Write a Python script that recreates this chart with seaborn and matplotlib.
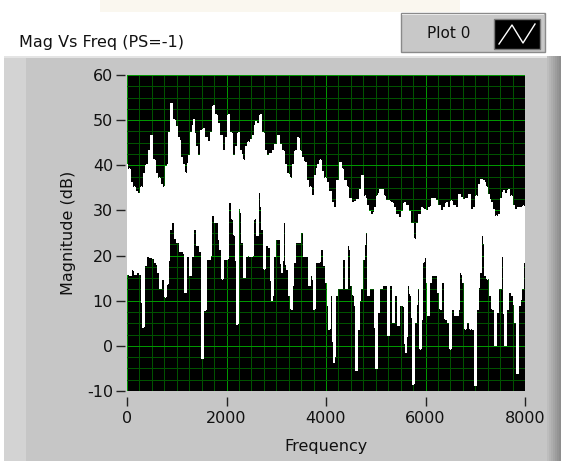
import numpy as np
import pandas as pd
import matplotlib
matplotlib.use("Agg")
import matplotlib.pyplot as plt
import seaborn as sns
from matplotlib.ticker import MultipleLocator
from matplotlib.patches import Rectangle
from matplotlib.lines import Line2D

# ---------------- data (50 Hz steps 0..8000) ----------------
upper_db = [
    40, 39, 36, 35, 34, 33.5, 35, 38, 40, 43, 46.5, 41, 38, 37, 35.5, 35,
    39.5, 47, 53.5, 50, 48.5, 46, 41.5, 40, 38, 42, 47, 50, 44, 42, 47.5, 48,
    46, 45, 47, 53, 51, 49, 46.5, 43, 46, 51, 47, 42, 44, 47, 43, 41,
    44, 45, 45.5, 46.5, 49.5, 49, 51, 47, 43, 42, 42.5, 43, 44.5, 46.5, 44.5, 43,
    40, 38, 37, 40, 43, 46, 43, 41.5, 40.5, 36.5, 35, 33, 37.5, 40, 41, 38.5,
    37, 36, 34, 31.5, 30.5, 36.5, 40.5, 39, 36.5, 35, 32.5, 31.5, 31.8, 32.3, 34.5, 37.5,
    33, 31, 29.5, 29, 30.5, 33, 34.5, 34.5, 33, 32, 31.9, 31.5, 30.5, 29, 28.3, 29.5,
    31.5, 31, 29.5, 27, 23.5, 27, 29, 30.5, 30, 29.7, 30.5, 32.5, 32.5, 31.9, 31, 29.7,
    30.5, 31.6, 30.5, 31.9, 31, 30.5, 33.4, 32.7, 32.3, 32.5, 33.4, 30, 30.5, 33, 35.6, 36.7,
    36.5, 35, 33.4, 31.5, 30, 28.6, 29, 32.5, 34.2, 33.5, 34.5, 33, 31, 30.1, 30.5, 30.5,
    30.8,
]
lower_db = [
    16, 15.7, 17, 16, 16.5, 16, 4.3, 18, 20, 19.8, 19.5, 18.7, 16.5, 12.8, 15, 11,
    13.9, 26, 27.5, 24, 23, 21, 21, 12, 20, 15.7, 20, 26, 22.4, 21, -2.7, 8,
    19.4, 19.4, 29, 27.5, 27.5, 21.6, 15, 19.4, 19.4, 32, 28.3, 24.6, 5, 33.4, 23, 15.3,
    20, 20, 20, 28.3, 24.6, 34.2, 26, 17.2, 22.4, 22, 10.2, 20, 23.8, 23.8, 16.5, 27.5,
    17.2, 11.3, 8.3, 18.7, 23, 23, 25.3, 20, 20, 13.5, 15.7, 8.3, 18.7, 18.7, 21.6, 18,
    14.2, 3.9, 11.3, -3.5, 11.3, 12.8, 12.8, 19.4, 12.8, 22.4, 13.5, 11.3, -5.3, 3.9, 12.8, 19.4,
    26, 11.3, 12.8, 12.8, -4.9, 7.6, 12.8, 13.5, 13.5, 2.4, 13.5, 5.4, 11.3, 4.7, 9.1, 9,
    -1.3, 13.5, 11.3, -8.3, 5.4, 12.8, -0.5, 18.7, 19.8, 6.9, 14.2, 15.7, 15.7, 12, 8.3, 14.2,
    6.1, 5.4, -0.5, 8.3, 6.9, 6.9, 16.5, 14.2, 3.9, 5.4, 3.9, 3.9, -8.6, 8.3, 16.5, 24.6,
    15.7, 15, 11.3, 8.3, 0.2, 7.6, 12.8, 20, 0.2, 8.3, 12, 11.3, 5.4, -6, 9.1, 12.8,
    18.7,
]
x_ticks = [0, 2000, 4000, 6000, 8000]
y_ticks = [-10, 0, 10, 20, 30, 40, 50, 60]
title_text = "Mag Vs Freq (PS=-1)"
x_label = "Frequency"
y_label = "Magnitude (dB)"
legend_label = "Plot 0"

n = min(len(upper_db), len(lower_db))
mag = np.empty(2 * n)
mag[0::2] = upper_db[:n]
mag[1::2] = lower_db[:n]
freq = np.linspace(x_ticks[0], x_ticks[-1], 2 * n)
df = pd.DataFrame({"Frequency": freq, "Magnitude": mag})

# ---------------- figure ----------------
W, H = 561, 461
plt.rcParams["font.family"] = ["DejaVu Sans"]
fig = plt.figure(figsize=(W / 100, H / 100), dpi=100)
fig.patch.set_facecolor("white")


def px_rect(x0, y0, x1, y1, z=-5, **kw):
    r = Rectangle((x0 / W, 1 - y1 / H), (x1 - x0) / W, (y1 - y0) / H,
                  transform=fig.transFigure, zorder=z, **kw)
    fig.patches.append(r)
    return r


def fx(x):
    return x / W


def fy(y):
    return 1 - y / H


# faint watermark strip at the very top
px_rect(100, 0, 460, 12, fc="#FAF7EF", ec="none", lw=0)

# gray panel
px_rect(4, 56, 561, 461, fc="#C6C6C6", ec="none", lw=0)
px_rect(4, 56, 26, 461, fc="#D3D3D3", ec="none", lw=0)
px_rect(4, 56, 561, 58, fc="#E4E4E4", ec="none", lw=0)
shades = ["#BDBDBD", "#B5B5B5", "#ADADAD", "#A5A5A5", "#9D9D9D", "#959595", "#8E8E8E"]
for i, c in enumerate(shades):
    px_rect(547 + 2 * i, 56, 549 + 2 * i, 461, fc=c, ec="none", lw=0)

# legend box
px_rect(401, 13, 545, 52, fc="#C8C8C8", ec="#8A8A8A", lw=1)
px_rect(402, 14, 544, 15, fc="#E8E8E8", ec="none", lw=0)
px_rect(494, 19, 540, 49, fc="black", ec="#7A7A7A", lw=1)
fig.lines.append(Line2D([fx(499), fx(512), fx(523), fx(535)],
                        [fy(44), fy(25), fy(43), fy(24)],
                        transform=fig.transFigure, color="white", lw=1))
fig.text(fx(449), fy(34), legend_label, ha="center", va="center",
         fontsize=11, color="#111111")

# title
fig.text(fx(19), fy(42), title_text, ha="left", va="center",
         fontsize=11.5, color="#111111")

# plot area
ax = fig.add_axes([127 / W, 1 - 391 / H, (525 - 127) / W, (391 - 75) / H])
ax.set_zorder(5)
ax.set_facecolor("black")
ax.set_axisbelow(True)
ax.xaxis.set_minor_locator(MultipleLocator(250))
ax.yaxis.set_minor_locator(MultipleLocator(2.5))
ax.grid(which="minor", color="#005200", lw=0.72, antialiased=False)
ax.grid(which="major", color="#009600", lw=0.72, antialiased=False)

sns.lineplot(data=df, x="Frequency", y="Magnitude", ax=ax, color="white",
             lw=1.3, estimator=None, sort=False, legend=False, antialiased=False)

ax.set_xlim(x_ticks[0], x_ticks[-1])
ax.set_ylim(y_ticks[0], y_ticks[-1])
ax.set_xticks(x_ticks)
ax.set_yticks(y_ticks)
ax.set_xticklabels([str(v) for v in x_ticks])
ax.set_yticklabels([str(v) for v in y_ticks])

for s in ax.spines.values():
    s.set_visible(False)
ax.spines["left"].set_position(("outward", 1.5))
ax.spines["bottom"].set_position(("outward", 4))

ax.tick_params(axis="both", which="major", direction="out", length=6.5, width=1.0,
               color="#222222", labelcolor="#111111", labelsize=11.5)
ax.tick_params(axis="x", which="major", pad=4)
ax.tick_params(axis="y", which="major", pad=2)
ax.tick_params(axis="both", which="minor", length=0)

ax.set_xlabel(x_label, fontsize=11.5, color="#111111", labelpad=9)
ax.set_ylabel(y_label, fontsize=11.5, color="#111111", labelpad=8)

fig.savefig("out.png", dpi=100, facecolor=fig.get_facecolor())
